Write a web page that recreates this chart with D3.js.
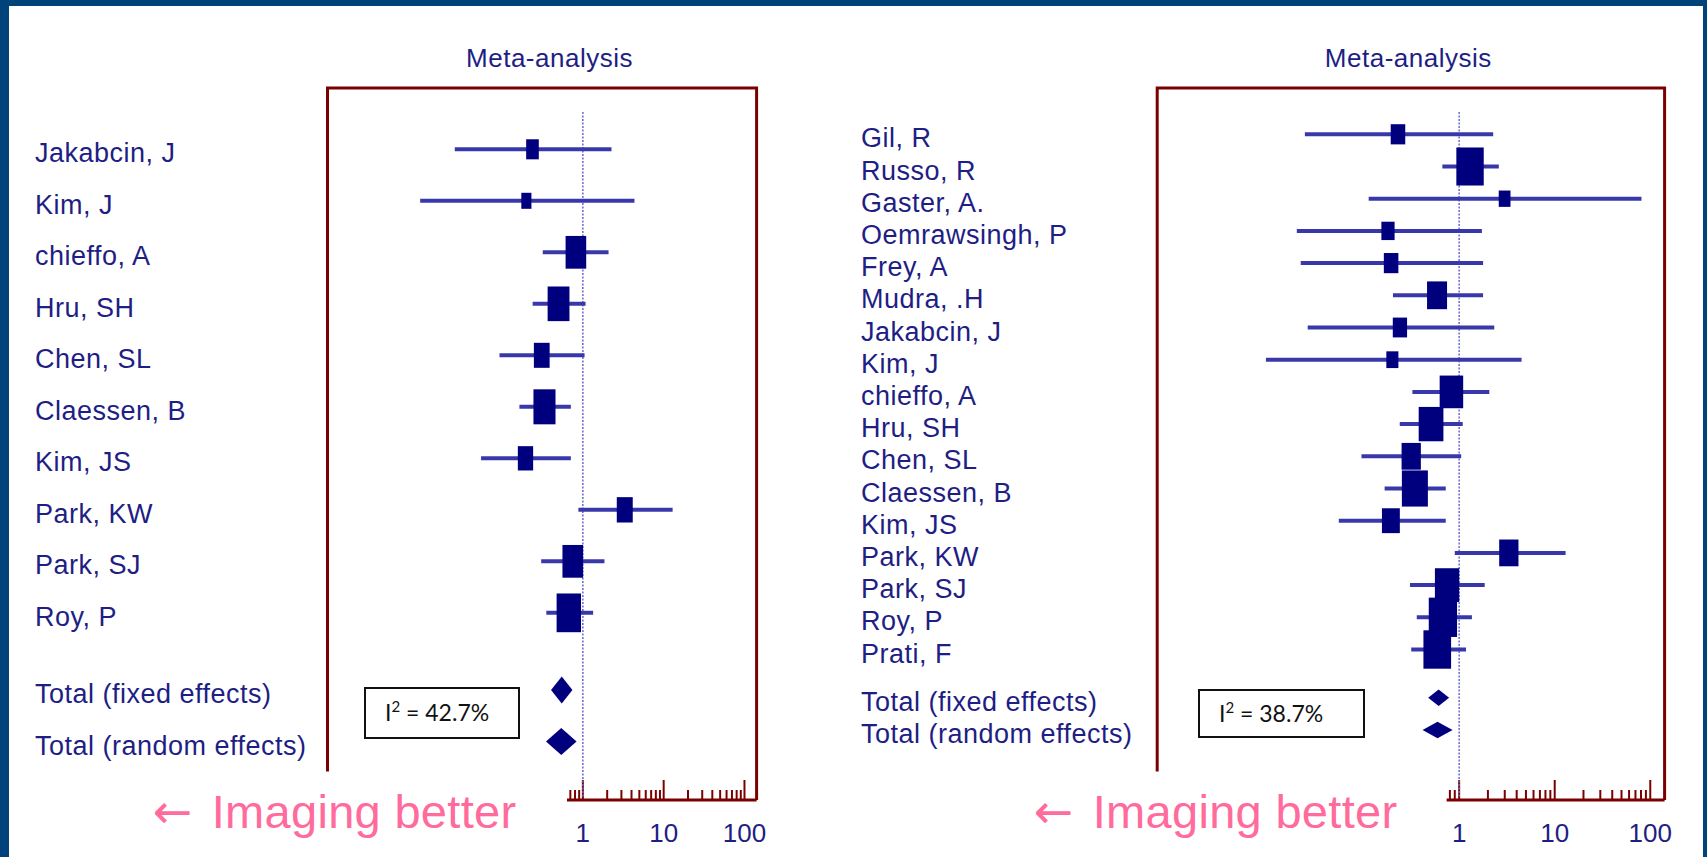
<!DOCTYPE html>
<html lang="en">
<head>
    <meta charset="UTF-8">
    <title>Meta-analysis forest plots</title>
    <script src="https://d3js.org/d3.v7.min.js"></script>
    <style>
        body {
            margin: 0;
            padding: 0;
            background-color: #00427a;
            overflow: hidden;
        }
        svg text {
            font-family: "Liberation Sans", Arial, sans-serif;
        }
    </style>
</head>
<body>
    <div id="chart"></div>
    <script>
        // left plot
        const leftStudies = ["Jakabcin, J", "Kim, J", "chieffo, A", "Hru, SH", "Chen, SL",
            "Claessen, B", "Kim, JS", "Park, KW", "Park, SJ", "Roy, P"];
        const leftOR = [0.238, 0.2, 0.82, 0.5, 0.31, 0.335, 0.195, 3.3, 0.75, 0.67];
        const leftLow = [0.026, 0.0097, 0.319, 0.239, 0.093, 0.164, 0.055, 0.88, 0.305, 0.353];
        const leftHigh = [2.26, 4.35, 2.08, 1.08, 1.05, 0.71, 0.71, 12.9, 1.85, 1.34];
        const leftWeight = [4.7, 3.0, 12.5, 14.0, 7.3, 14.3, 6.9, 7.5, 12.5, 17.5];
        const leftTotalOR = [0.548, 0.54];
        const leftTotalLow = [0.404, 0.35];
        const leftTotalHigh = [0.743, 0.836];
        const leftI2 = "42.7%";

        // right plot
        const rightStudies = ["Gil, R", "Russo, R", "Gaster, A.", "Oemrawsingh, P", "Frey, A",
            "Mudra, .H", "Jakabcin, J", "Kim, J", "chieffo, A", "Hru, SH", "Chen, SL",
            "Claessen, B", "Kim, JS", "Park, KW", "Park, SJ", "Roy, P", "Prati, F"];
        const rightOR = [0.229, 1.3, 2.99, 0.18, 0.194, 0.587, 0.24, 0.2, 0.83, 0.508, 0.315,
            0.344, 0.193, 3.31, 0.747, 0.676, 0.59];
        const rightLow = [0.0243, 0.667, 0.113, 0.02, 0.022, 0.203, 0.026, 0.0095, 0.324, 0.239,
            0.095, 0.166, 0.055, 0.9, 0.306, 0.36, 0.315];
        const rightHigh = [2.27, 2.6, 80.9, 1.73, 1.78, 1.78, 2.33, 4.5, 2.07, 1.09, 1.05,
            0.724, 0.724, 13, 1.85, 1.36, 1.18];
        const rightWeight = [2.9, 10.3, 1.9, 2.4, 2.9, 5.5, 2.8, 2.0, 7.6, 8.4, 5.1, 9.3, 4.4,
            5.1, 8.1, 11.0, 10.5];
        const rightTotalOR = [0.61, 0.594];
        const rightTotalLow = [0.474, 0.414];
        const rightTotalHigh = [0.785, 0.853];
        const rightI2 = "38.7%";

        const totalLabels = ["Total (fixed effects)", "Total (random effects)"];
        const majorTicks = [1, 10, 100];
        const title = "Meta-analysis";
        const arrowLabel = "Imaging better";

        const W = 1707, H = 857;
        const textColor = "#1e1e84";
        const markColor = "#00007f";
        const lineColor = "#3838aa";
        const boxColor = "#7b0000";

        const svg = d3.select("#chart").append("svg")
            .attr("width", W)
            .attr("height", H);

        // white slide area inside the blue frame
        svg.append("rect")
            .attr("x", 9).attr("y", 6)
            .attr("width", 1703 - 9).attr("height", H - 6)
            .attr("fill", "#ffffff");

        function drawPanel(p) {
            const g = svg.append("g");
            const n = p.studies.length;

            const x = d3.scaleLog()
                .domain([Math.pow(10, -3.16), Math.pow(10, 2.15)])
                .range([p.boxL, p.boxR]);
            const y = d3.scaleLinear()
                .domain([0, n + 1.5])
                .range([p.row0, p.rowLast]);
            const size = d3.scaleSqrt().domain([0, 20]).range([0, p.sizeMax]);

            // title
            g.append("text")
                .attr("x", p.titleX).attr("y", 67)
                .attr("text-anchor", "middle")
                .attr("font-size", 26)
                .attr("letter-spacing", 0.5)
                .attr("fill", textColor)
                .text(title);

            // box (bottom side is the axis)
            g.append("path")
                .attr("d", `M${p.boxL},${p.axisY} V${p.boxT} H${p.boxR} V${p.axisY}`)
                .attr("fill", "none")
                .attr("stroke", boxColor)
                .attr("stroke-width", 3);

            // axis line and ticks
            g.append("line")
                .attr("x1", p.boxL).attr("x2", p.boxR)
                .attr("y1", p.axisY).attr("y2", p.axisY)
                .attr("stroke", boxColor)
                .attr("stroke-width", 3);

            const allTicks = x.ticks(30).filter(t => t >= x.domain()[0] && t <= x.domain()[1]);
            g.selectAll(".tick").data(allTicks).join("line")
                .attr("x1", d => x(d)).attr("x2", d => x(d))
                .attr("y1", p.axisY)
                .attr("y2", d => Math.abs(Math.log10(d) - Math.round(Math.log10(d))) < 1e-9 ? p.axisY - 20 : p.axisY - 10)
                .attr("stroke", boxColor)
                .attr("stroke-width", 2);

            // line of no effect
            g.append("line")
                .attr("x1", x(1)).attr("x2", x(1))
                .attr("y1", 112).attr("y2", p.axisY - 2)
                .attr("stroke", "#6a6acc")
                .attr("stroke-width", 1.5)
                .attr("stroke-dasharray", "2,1.5");

            // study labels
            g.selectAll(".lab").data(p.studies).join("text")
                .attr("x", p.labelX)
                .attr("y", (d, i) => y(i) + 13)
                .attr("font-size", 27)
                .attr("letter-spacing", 0.5)
                .attr("fill", textColor)
                .text(d => d);

            g.selectAll(".tot").data(totalLabels).join("text")
                .attr("x", p.labelX)
                .attr("y", (d, i) => y(n + 0.5 + i) + 13)
                .attr("font-size", 27)
                .attr("letter-spacing", 0.5)
                .attr("fill", textColor)
                .text(d => d);

            // confidence intervals
            g.selectAll(".ci").data(p.studies).join("line")
                .attr("x1", (d, i) => x(p.low[i]))
                .attr("x2", (d, i) => x(p.high[i]))
                .attr("y1", (d, i) => y(i))
                .attr("y2", (d, i) => y(i))
                .attr("stroke", lineColor)
                .attr("stroke-width", 4);

            // weighted markers
            g.selectAll(".mk").data(p.studies).join("rect")
                .attr("x", (d, i) => x(p.or[i]) - size(p.weight[i]) * p.aspect / 2)
                .attr("y", (d, i) => y(i) - size(p.weight[i]) / 2)
                .attr("width", (d, i) => size(p.weight[i]) * p.aspect)
                .attr("height", (d, i) => size(p.weight[i]))
                .attr("fill", markColor);

            // pooled diamonds
            g.selectAll(".dm").data(totalLabels).join("path")
                .attr("d", (d, i) => {
                    const cy = y(n + 0.5 + i), h = p.diamondH / 2;
                    return `M${x(p.totLow[i])},${cy} L${x(p.totOR[i])},${cy - h} L${x(p.totHigh[i])},${cy} L${x(p.totOR[i])},${cy + h} Z`;
                })
                .attr("fill", markColor);

            // heterogeneity box
            g.append("rect")
                .attr("x", p.i2Box[0]).attr("y", p.i2Box[1])
                .attr("width", p.i2Box[2]).attr("height", p.i2Box[3])
                .attr("fill", "#fff")
                .attr("stroke", "#111")
                .attr("stroke-width", 2);

            const t = g.append("text")
                .attr("x", p.i2Box[0] + 20)
                .attr("y", p.i2Box[1] + p.i2Box[3] / 2 + 8)
                .attr("font-size", 23)
                .attr("fill", "#111")
                .style("font-family", "Lato, 'Open Sans', sans-serif");
            t.append("tspan").text("I");
            t.append("tspan").attr("font-size", 15).attr("dy", -9).text("2");
            t.append("tspan").attr("dy", 9).text(" = " + p.i2);

            // white text box pasted over the lower-left part of the plot
            g.append("rect")
                .attr("x", p.cover[0]).attr("y", p.cover[1])
                .attr("width", p.cover[2]).attr("height", H - p.cover[1])
                .attr("fill", "#ffffff");

            const a = g.append("text")
                .attr("x", p.arrowX).attr("y", 828)
                .attr("font-size", 47)
                .attr("fill", "#ff6b9c");
            a.append("tspan")
                .style("font-family", "'DejaVu Sans', sans-serif")
                .text("\u2190");
            a.append("tspan")
                .attr("dx", 6)
                .attr("letter-spacing", 0.3)
                .text(" " + arrowLabel);

            // tick labels
            g.selectAll(".tl").data(majorTicks).join("text")
                .attr("x", d => x(d))
                .attr("y", 842)
                .attr("text-anchor", "middle")
                .attr("font-size", 26)
                .attr("fill", textColor)
                .text(d => d);
        }

        drawPanel({
            studies: leftStudies, or: leftOR, low: leftLow, high: leftHigh, weight: leftWeight,
            totOR: leftTotalOR, totLow: leftTotalLow, totHigh: leftTotalHigh, i2: leftI2,
            labelX: 35, boxL: 327.5, boxR: 756.6, boxT: 88, axisY: 800,
            row0: 149.3, rowLast: 741.6, titleX: 549.5,
            sizeMax: 41.4, aspect: 0.63, diamondH: 27,
            i2Box: [365, 688, 154, 50], cover: [127, 771.5, 440], arrowX: 153
        });

        drawPanel({
            studies: rightStudies, or: rightOR, low: rightLow, high: rightHigh, weight: rightWeight,
            totOR: rightTotalOR, totLow: rightTotalLow, totHigh: rightTotalHigh, i2: rightI2,
            labelX: 861, boxL: 1157.2, boxR: 1664.6, boxT: 88, axisY: 800,
            row0: 134.3, rowLast: 730, titleX: 1408.3,
            sizeMax: 53, aspect: 0.72, diamondH: 16.5,
            i2Box: [1199, 690, 165, 47], cover: [1005, 771.5, 441.6], arrowX: 1034
        });
    </script>
</body>
</html>
